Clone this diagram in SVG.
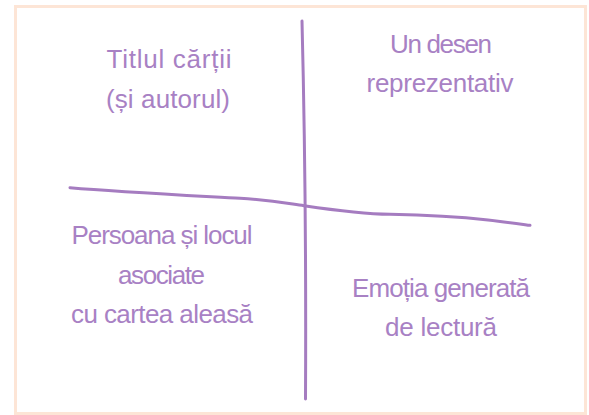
<svg xmlns="http://www.w3.org/2000/svg" width="589" height="415" viewBox="0 0 589 415">
<style>
.lbl{font-family:"Liberation Sans",Arial,sans-serif;font-size:26px;fill:#a881c4;text-anchor:middle}
.ax{fill:none;stroke:#a57cc0;stroke-width:3;stroke-linecap:round}
</style>
<rect x="0" y="0" width="589" height="415" fill="#ffffff"/>
<rect id="frame" x="15.5" y="6.5" width="570" height="407" fill="#ffffff" stroke="#fde5d6" stroke-width="3"/>
<g id="connectors">
<path class="ax" d="M302,21 Q306.5,200 305.5,399"/>
<path class="ax" d="M70,187.7 C120,192 200,196 240,198.3 C270,200 285,203 304,205.7 C340,211 365,214 390,214.3 C430,215 470,218 488,220 C505,222 520,224 530,225.3"/>
</g>
<g id="q1">
<text class="lbl" x="169" y="68" textLength="125">Titlul cărții</text>
<text class="lbl" x="168" y="108" textLength="124">(și autorul)</text>
</g>
<g id="q2">
<text class="lbl" x="441" y="52.7" textLength="102">Un desen</text>
<text class="lbl" x="440" y="92" textLength="147">reprezentativ</text>
</g>
<g id="q3">
<text class="lbl" x="162" y="244" textLength="181">Persoana și locul</text>
<text class="lbl" x="161.5" y="284" textLength="87">asociate</text>
<text class="lbl" x="162" y="323" textLength="182">cu cartea aleasă</text>
</g>
<g id="q4">
<text class="lbl" x="441" y="297" textLength="178">Emoția generată</text>
<text class="lbl" x="441" y="336" textLength="112">de lectură</text>
</g>
</svg>
